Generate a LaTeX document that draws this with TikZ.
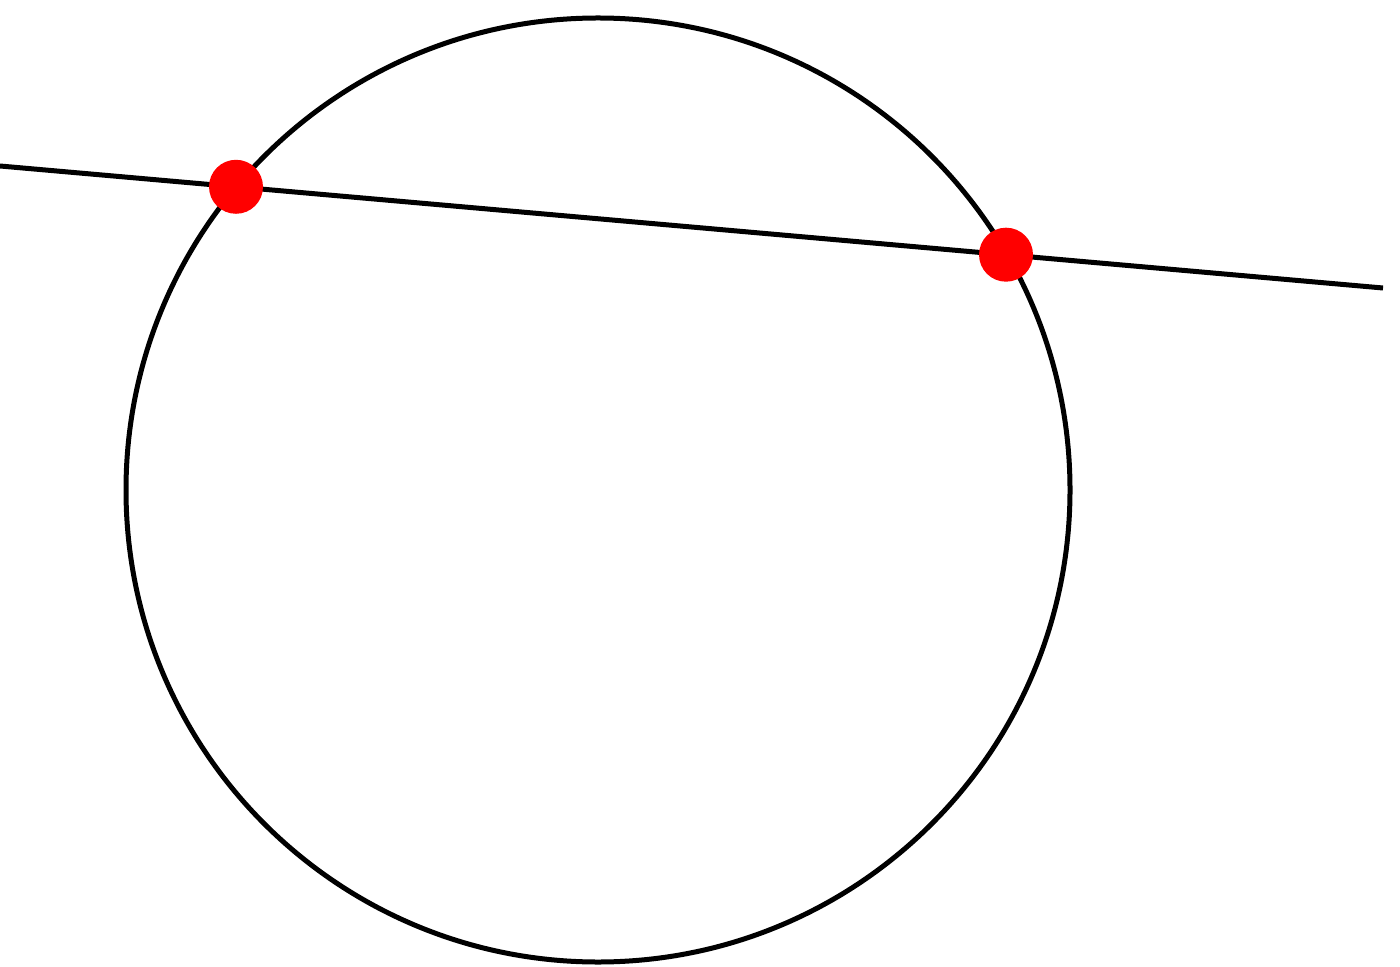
\documentclass[tikz,border=0pt]{standalone}
\begin{document}
\begin{tikzpicture}[x=0.5pt,y=-0.5pt,
  curve/.style={draw=black,line width=2.5pt},
  reddot/.style={circle,fill=red,inner sep=0pt,minimum size=27pt}]
\useasboundingbox (0,0) rectangle (1400,967);
\coordinate (O) at (598,490);
\draw[curve] (O) circle[radius=236pt];
\coordinate (L) at (0,166);
\coordinate (R) at (1383,288);
\draw[curve] (L) -- (R);
\node[reddot] (P1) at (236,186.8) {};
\node[reddot] (P2) at (1006,254.7) {};
\end{tikzpicture}
\end{document}
